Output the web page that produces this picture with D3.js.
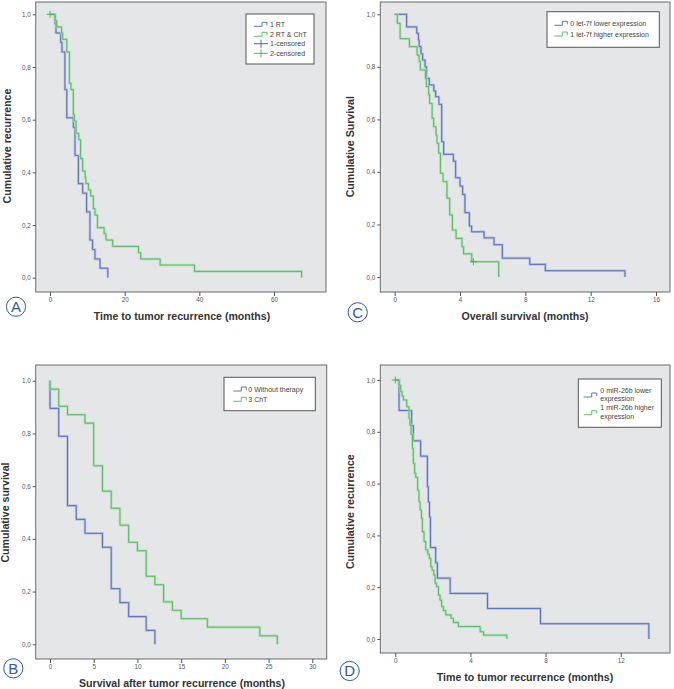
<!DOCTYPE html>
<html><head><meta charset="utf-8">
<script src="https://cdn.jsdelivr.net/npm/d3@7/dist/d3.min.js"></script>
<style>
body{margin:0;background:#fff}
svg text{font-family:"Liberation Sans",Arial,sans-serif}
</style>
</head><body>
<svg id="chart" width="674" height="689"></svg>
<script>
// ---------- DATA ----------
const yTickValues = [0, 0.2, 0.4, 0.6, 0.8, 1.0];

// Panel A: time to tumor recurrence by therapy
const aXTicks = [0, 20, 40, 60];
const aRtTimes = [1.34, 1.6, 2.87, 3.2, 4.0, 4.5, 6.25, 6.7, 7.6, 8.75, 9.8, 10.7, 11.4, 12.05, 13.4, 15.5];
const aRtSurv  = [0.964, 0.929, 0.893, 0.857, 0.714, 0.607, 0.571, 0.464, 0.357, 0.321, 0.25, 0.143, 0.107, 0.071, 0.036, 0];
const aChtTimes = [1.34, 1.8, 3.1, 3.4, 4.5, 5.2, 5.6, 6.25, 6.5, 7.0, 7.7, 8.2, 8.75, 9.4, 9.6, 10.3, 10.9, 11.6, 12.05, 12.7, 14.5, 15.0, 16.8, 23.7, 24.3, 29.5, 38.7, 67.4];
const aChtSurv  = [0.976, 0.952, 0.929, 0.905, 0.857, 0.738, 0.714, 0.619, 0.595, 0.548, 0.524, 0.452, 0.405, 0.381, 0.357, 0.333, 0.31, 0.262, 0.238, 0.19, 0.167, 0.143, 0.119, 0.095, 0.071, 0.048, 0.024, 0];
const aLegend = ["1 RT", "2 RT & ChT", "1-censored", "2-censored"];

// Panel C: overall survival by let-7f expression
const cXTicks = [0, 4, 8, 12, 16];
const cLowTimes = [0.73, 1.35, 1.45, 1.5, 1.61, 1.71, 1.86, 1.95, 2.12, 2.4, 2.51, 2.71, 2.88, 3.0, 3.59, 3.73, 4.0, 4.16, 4.3, 4.57, 4.71, 5.47, 6.08, 6.59, 8.27, 9.22, 14.1];
const cLowSurv  = [0.952, 0.928, 0.902, 0.877, 0.85, 0.826, 0.8, 0.756, 0.731, 0.708, 0.686, 0.657, 0.515, 0.467, 0.441, 0.378, 0.346, 0.314, 0.245, 0.194, 0.172, 0.149, 0.123, 0.072, 0.048, 0.024, 0];
const cHighTimes = [0.16, 0.33, 0.9, 1.37, 1.49, 1.57, 1.88, 1.94, 2.08, 2.14, 2.29, 2.39, 2.53, 2.59, 2.69, 2.8, 2.96, 3.2, 3.37, 3.53, 3.76, 4.12, 4.22, 4.72, 6.37];
const cHighSurv  = [0.966, 0.907, 0.877, 0.845, 0.82, 0.788, 0.756, 0.725, 0.693, 0.661, 0.604, 0.572, 0.54, 0.509, 0.471, 0.395, 0.363, 0.3, 0.236, 0.179, 0.147, 0.115, 0.088, 0.058, 0];
const cHighCensorTimes = [4.82];
const cLegend = ["0 let-7f lower expression", "1 let-7f higher expression"];

// Panel B: survival after tumor recurrence by therapy
const bXTicks = [0, 5, 10, 15, 20, 25, 30];
const bNoTimes = [0, 1, 2, 3, 4, 6, 7, 8, 9, 11, 12];
const bNoSurv  = [0.895, 0.789, 0.526, 0.474, 0.421, 0.368, 0.211, 0.158, 0.105, 0.053, 0];
const bChtTimes = [0, 1, 2, 4, 5, 6, 7, 8, 9, 10, 11, 12, 13, 14, 15, 18, 24, 26];
const bChtSurv  = [0.968, 0.903, 0.871, 0.839, 0.677, 0.581, 0.516, 0.452, 0.387, 0.355, 0.258, 0.226, 0.161, 0.129, 0.097, 0.065, 0.032, 0];
const bLegend = ["0 Without therapy", "3 ChT"];

// Panel D: time to tumor recurrence by miR-26b expression
const dXTicks = [0, 4, 8, 12];
const dLowTimes = [0.2, 0.87, 0.96, 1.35, 1.71, 1.76, 1.82, 1.87, 2.15, 2.24, 2.92, 4.91, 7.73, 13.5];
const dLowSurv  = [0.882, 0.824, 0.765, 0.706, 0.588, 0.529, 0.471, 0.353, 0.294, 0.235, 0.176, 0.118, 0.059, 0];
const dHighTimes = [0.2, 0.29, 0.36, 0.43, 0.61, 0.73, 0.78, 0.84, 0.91, 0.96, 1.03, 1.09, 1.19, 1.26, 1.32, 1.39, 1.44, 1.53, 1.62, 1.73, 1.81, 1.89, 1.96, 2.05, 2.12, 2.2, 2.3, 2.38, 2.47, 2.56, 2.69, 2.97, 3.09, 3.36, 4.52, 4.7, 5.94];
const dHighSurv  = [0.98, 0.955, 0.938, 0.923, 0.897, 0.852, 0.826, 0.79, 0.736, 0.678, 0.64, 0.624, 0.575, 0.53, 0.498, 0.466, 0.414, 0.376, 0.344, 0.328, 0.311, 0.279, 0.266, 0.247, 0.215, 0.202, 0.17, 0.15, 0.125, 0.11, 0.093, 0.08, 0.064, 0.048, 0.028, 0.015, 0];
const dLegend = [["0 miR-26b lower", "expression"], ["1 miR-26b higher", "expression"]];

// ---------- STYLE ----------
const BLUE = "#4d68b3", BLUE_HALO = "#aab8dc";
const GREEN = "#4cb856", GREEN_HALO = "#a9dcae";
const BG = "#e5e6e8";
const LETTER = "#2b5c9c";

const panels = [
  { frame:[35.7,2,326,292], xDom:[0,60], xRng:[50,274], yRng:[277.7,14.3], xTicks:aXTicks,
    xTitle:"Time to tumor recurrence (months)", xt:[182,320], yTitle:"Cumulative recurrence", yt:[10.5,146],
    letter:"A", lc:[16,306.7],
    series:[{t:aRtTimes,s:aRtSurv,c:BLUE,h:BLUE_HALO,cens:[]},{t:aChtTimes,s:aChtSurv,c:GREEN,h:GREEN_HALO,cens:[0]}],
    legend:{box:[246,14,314,64], gx:254, tx:270,
      items:[{lab:[aLegend[0]],ly:[24.3],gy:24.3,type:"step",c:BLUE},{lab:[aLegend[1]],ly:[34.3],gy:34.3,type:"step",c:GREEN},
             {lab:[aLegend[2]],ly:[43.7],gy:43.7,type:"cross",c:BLUE},{lab:[aLegend[3]],ly:[53.3],gy:53.3,type:"cross",c:GREEN}]}},
  { frame:[380.3,2,670,292], xDom:[0,16], xRng:[394.7,656], yRng:[277,14.3], xTicks:cXTicks,
    xTitle:"Overall survival (months)", xt:[525,320], yTitle:"Cumulative Survival", yt:[353.5,146.7],
    letter:"C", lc:[357.7,312.3],
    series:[{t:cLowTimes,s:cLowSurv,c:BLUE,h:BLUE_HALO,cens:[]},{t:cHighTimes,s:cHighSurv,c:GREEN,h:GREEN_HALO,cens:cHighCensorTimes}],
    legend:{box:[547,11.7,659.3,47.3], gx:554.3, tx:570.3,
      items:[{lab:[cLegend[0]],ly:[23.3],gy:23.3,type:"step",c:BLUE},{lab:[cLegend[1]],ly:[34],gy:34,type:"step",c:GREEN}]}},
  { frame:[35.7,365,326.7,659], xDom:[0,30], xRng:[50,312.3], yRng:[644.3,380.7], xTicks:bXTicks,
    xTitle:"Survival after tumor recurrence (months)", xt:[182,686.5], yTitle:"Cumulative survival", yt:[9,512.5],
    letter:"B", lc:[13.3,668.3],
    series:[{t:bNoTimes,s:bNoSurv,c:BLUE,h:BLUE_HALO,cens:[]},{t:bChtTimes,s:bChtSurv,c:GREEN,h:GREEN_HALO,cens:[]}],
    legend:{box:[224,377.3,315.3,410.7], gx:233.3, tx:248.3,
      items:[{lab:[bLegend[0]],ly:[389],gy:389,type:"step",c:BLUE},{lab:[bLegend[1]],ly:[399.3],gy:399.3,type:"step",c:GREEN}]}},
  { frame:[380.3,365,670,653], xDom:[0,12], xRng:[395.3,620.7], yRng:[639,380], xTicks:dXTicks,
    xTitle:"Time to tumor recurrence (months)", xt:[525,680.5], yTitle:"Cumulative recurrence", yt:[353.5,511.7],
    letter:"D", lc:[349.7,671],
    series:[{t:dLowTimes,s:dLowSurv,c:BLUE,h:BLUE_HALO,cens:[]},{t:dHighTimes,s:dHighSurv,c:GREEN,h:GREEN_HALO,cens:[0]}],
    legend:{box:[578.3,379,661.3,427.3], gx:583.7, tx:600.3,
      items:[{lab:dLegend[0],ly:[390.7,398.7],gy:395,type:"step",c:BLUE},{lab:dLegend[1],ly:[407.7,416],gy:412.7,type:"step",c:GREEN}]}}
];

const svg = d3.select("#chart");
const fmt = d => d3.format(".1f")(d).replace(".", ",");

// survival value at time t (step function, right-continuous)
function survAt(times, surv, t){
  let v = 1;
  for(let i=0;i<times.length;i++){ if(times[i] <= t) v = surv[i]; }
  return v;
}

panels.forEach(p => {
  const g = svg.append("g");
  const [fx0, fy0, fx1, fy1] = p.frame;
  const x = d3.scaleLinear().domain(p.xDom).range(p.xRng);
  const y = d3.scaleLinear().domain([0,1]).range(p.yRng);

  g.append("rect").attr("x",fx0).attr("y",fy0).attr("width",fx1-fx0).attr("height",fy1-fy0)
    .attr("fill",BG).attr("stroke","#6b6b6b").attr("stroke-width",1);

  // axes
  const ya = g.append("g").attr("transform",`translate(${fx0},0)`)
    .call(d3.axisLeft(y).tickValues(yTickValues).tickFormat(fmt).tickSize(3).tickPadding(2));
  const xa = g.append("g").attr("transform",`translate(0,${fy1})`)
    .call(d3.axisBottom(x).tickValues(p.xTicks).tickFormat(d3.format("d")).tickSize(4).tickPadding(2));
  [ya, xa].forEach(a => {
    a.select(".domain").remove();
    a.selectAll(".tick line").attr("stroke","#555");
    a.selectAll(".tick text").attr("fill","#555").style("font-size","6.3px");
  });

  // curves
  const line = d3.line().x(d => x(d[0])).y(d => y(d[1])).curve(d3.curveStepAfter);
  p.series.forEach(s => {
    const pts = [[0,1]].concat(s.t.map((t,i) => [t, s.s[i]]));
    g.append("path").attr("d", line(pts)).attr("fill","none").attr("stroke",s.h).attr("stroke-width",2.6).attr("stroke-opacity",0.75);
    g.append("path").attr("d", line(pts)).attr("fill","none").attr("stroke",s.c).attr("stroke-width",0.9);
    s.cens.forEach(ct => {
      const cx = x(ct), cy = y(survAt(s.t, s.s, ct));
      g.append("path").attr("d",`M${cx-3.5},${cy}H${cx+3.5}M${cx},${cy-3.5}V${cy+3.5}`)
        .attr("stroke",s.c).attr("stroke-width",1).attr("fill","none");
    });
  });

  // legend
  const L = p.legend;
  g.append("rect").attr("x",L.box[0]).attr("y",L.box[1]).attr("width",L.box[2]-L.box[0]).attr("height",L.box[3]-L.box[1])
    .attr("fill","#fff").attr("stroke","#555").attr("stroke-width",1);
  L.items.forEach(it => {
    const gx = L.gx, gy = it.gy;
    if(it.type === "step"){
      g.append("path").attr("d",`M${gx},${gy+2}H${gx+8}V${gy-2}H${gx+13}V${gy+1}`)
        .attr("fill","none").attr("stroke",it.c).attr("stroke-width",0.9);
    } else {
      g.append("path").attr("d",`M${gx},${gy}H${gx+14}M${gx+7},${gy-4}V${gy+4}`)
        .attr("fill","none").attr("stroke",it.c).attr("stroke-width",1);
    }
    it.lab.forEach((lab, k) => {
      g.append("text").attr("x",L.tx).attr("y",it.ly[k]+2.5).text(lab)
        .style("font-size","7px").attr("fill","#444");
    });
  });

  // titles
  g.append("text").attr("x",p.xt[0]).attr("y",p.xt[1]).attr("text-anchor","middle")
    .style("font-size","10.6px").style("font-weight","bold").attr("fill","#333").text(p.xTitle);
  g.append("text").attr("transform",`translate(${p.yt[0]},${p.yt[1]}) rotate(-90)`).attr("text-anchor","middle")
    .style("font-size","10.6px").style("font-weight","bold").attr("fill","#333").text(p.yTitle);

  // panel letter
  g.append("circle").attr("cx",p.lc[0]).attr("cy",p.lc[1]).attr("r",9.6)
    .attr("fill","#fff").attr("stroke",LETTER).attr("stroke-width",1);
  g.append("text").attr("x",p.lc[0]).attr("y",p.lc[1]+5.2).attr("text-anchor","middle")
    .style("font-size","15px").attr("fill",LETTER).text(p.letter);
});
</script>
</body></html>
